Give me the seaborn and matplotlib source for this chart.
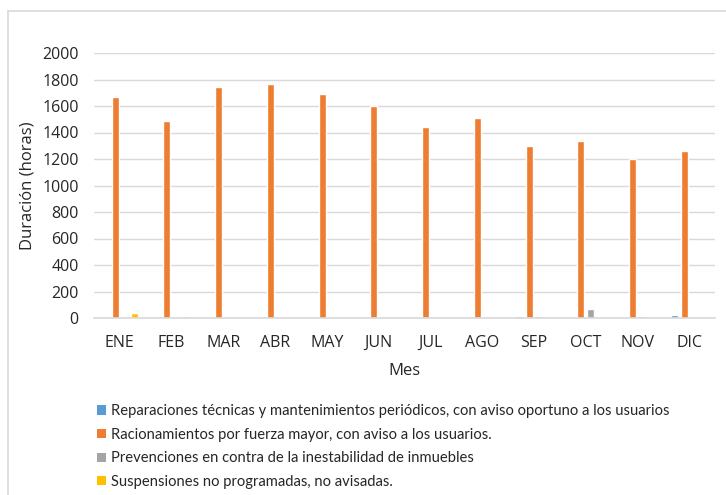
import matplotlib
matplotlib.use("Agg")
import matplotlib.pyplot as plt
import seaborn as sns
import pandas as pd
from matplotlib.patches import Patch
from matplotlib.lines import Line2D

meses = ["ENE", "FEB", "MAR", "ABR", "MAY", "JUN", "JUL", "AGO", "SEP", "OCT", "NOV", "DIC"]
series = [
    "Reparaciones técnicas y mantenimientos periódicos, con aviso oportuno a los usuarios",
    "Racionamientos por fuerza mayor, con aviso a los usuarios.",
    "Prevenciones en contra de la inestabilidad de inmuebles",
    "Suspensiones no programadas, no avisadas.",
]
reparaciones = [0, 0, 0, 0, 0, 0, 0, 0, 15, 0, 0, 22]
racionamientos = [1665, 1490, 1743, 1765, 1692, 1600, 1440, 1510, 1295, 1335, 1200, 1260]
prevenciones = [0, 0, 0, 0, 0, 0, 0, 0, 12, 65, 12, 0]
suspensiones = [38, 15, 0, 0, 0, 0, 0, 0, 0, 0, 0, 0]
colores = ["#5B9BD5", "#ED7D31", "#A5A5A5", "#FFC000"]

rows = []
for s, vals in zip(series, [reparaciones, racionamientos, prevenciones, suspensiones]):
    for m, v in zip(meses, vals):
        rows.append({"Mes": m, "Serie": s, "Horas": v})
df = pd.DataFrame(rows)

sns.set_style("white")
plt.rcParams["font.family"] = ["Open Sans", "DejaVu Sans"]

fig = plt.figure(figsize=(7.26, 4.95), dpi=100)
ax = fig.add_axes([94 / 726, 1 - 318 / 495, (715 - 94) / 726, (318 - 53) / 495])

sns.barplot(data=df, x="Mes", y="Horas", hue="Serie", order=meses, hue_order=series,
            palette=colores, width=0.735, gap=0.27, saturation=1, ax=ax,
            errorbar=None, legend=False)

ax.set_ylim(0, 2000)
ax.set_yticks(range(0, 2001, 200))
ax.set_xlim(-0.5, 11.5)
ax.yaxis.grid(True, color="#D9D9D9", linewidth=1)
ax.set_axisbelow(True)
for sp in ["top", "right", "left"]:
    ax.spines[sp].set_visible(False)
ax.spines["bottom"].set_color("#D9D9D9")
ax.spines["bottom"].set_linewidth(1.2)
ax.tick_params(axis="both", length=0, labelsize=11.5, colors="#262626")
ax.tick_params(axis="y", pad=11)
ax.tick_params(axis="x", pad=12)
ax.set_xlabel("Mes", fontsize=12, color="#262626", labelpad=9)
ax.set_ylabel("Duración (horas)", fontsize=12, color="#262626", labelpad=4.5)

# frame
fig.add_artist(Line2D([8 / 726, 8 / 726], [0, 1 - 11 / 495], transform=fig.transFigure,
                      color="#D9D9D9", linewidth=1.2))
fig.add_artist(Line2D([8 / 726, 1], [1 - 11 / 495, 1 - 11 / 495], transform=fig.transFigure,
                      color="#D9D9D9", linewidth=1.2))

handles = [Patch(facecolor=c, edgecolor="none") for c in colores]
fig.legend(handles, series, loc="upper left", bbox_to_anchor=(84 / 726, 1 - 391 / 495),
           frameon=False, handlelength=0.6, handleheight=0.6,
           handletextpad=0.35, labelspacing=0.65,
           prop={"family": ["Lato", "DejaVu Sans"], "size": 10.6})

fig.savefig("out.png", dpi=100)
